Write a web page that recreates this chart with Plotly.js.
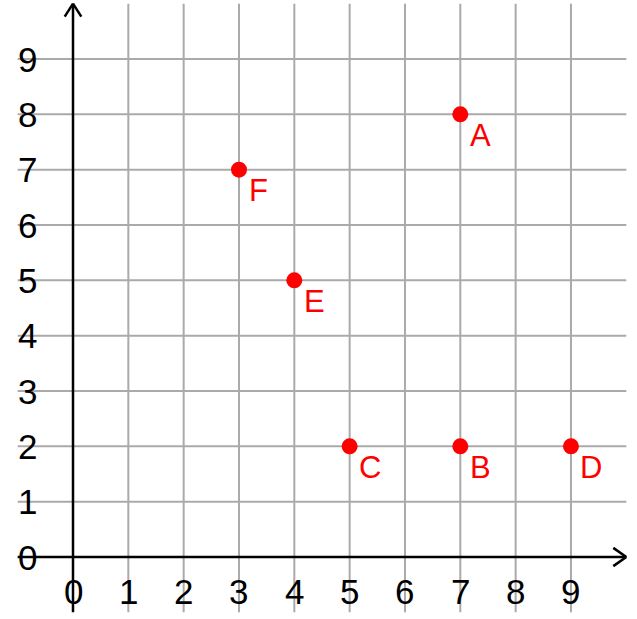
<!DOCTYPE html>
<html>
<head>
<meta charset="utf-8">
<script src="https://cdn.plot.ly/plotly-3.0.1.min.js"></script>
<style>
  html, body { margin: 0; padding: 0; background: #fff; }
  #plot { width: 637px; height: 619px; }
</style>
</head>
<body>
<div id="plot"></div>
<script>
// points
const point_names = ['A', 'B', 'C', 'D', 'E', 'F'];
const point_x = [7, 7, 5, 9, 4, 3];
const point_y = [8, 2, 2, 2, 5, 7];

// ticks
const x_ticks = [0, 1, 2, 3, 4, 5, 6, 7, 8, 9];
const y_ticks = [0, 1, 2, 3, 4, 5, 6, 7, 8, 9];
const grid_min = -1;
const grid_max = 10;

const font_family = 'Arial, "Liberation Sans", sans-serif';

const seg = (x0, y0, x1, y1, color, width) => ({
  type: 'line', xref: 'x', yref: 'y',
  x0, y0, x1, y1,
  line: {color, width},
  layer: 'below',
});

let shapes = [];
// grid
for (const t of x_ticks.slice(1)) shapes.push(seg(t, grid_min, t, grid_max, '#aaaaaa', 2));
for (const t of y_ticks.slice(1)) shapes.push(seg(grid_min, t, grid_max, t, '#aaaaaa', 2));
// axes with open arrow heads
shapes.push(seg(grid_min, 0, grid_max, 0, '#000', 2.5));
shapes.push(seg(0, grid_min, 0, grid_max, '#000', 2.5));
shapes.push(seg(grid_max - 0.235, 0.165, grid_max, 0, '#000', 2.5));
shapes.push(seg(grid_max - 0.235, -0.165, grid_max, 0, '#000', 2.5));
shapes.push(seg(-0.15, grid_max - 0.235, 0, grid_max, '#000', 2.5));
shapes.push(seg(0.15, grid_max - 0.235, 0, grid_max, '#000', 2.5));

let annotations = [];
for (const t of x_ticks) {
  annotations.push({
    x: t, y: -0.63, xref: 'x', yref: 'y', text: String(t), showarrow: false,
    xanchor: 'center', yanchor: 'middle',
    font: {family: font_family, size: 35, color: '#000'},
  });
}
for (const t of y_ticks) {
  annotations.push({
    x: -0.83, y: t, xref: 'x', yref: 'y', text: String(t), showarrow: false,
    xanchor: 'center', yanchor: 'middle',
    font: {family: font_family, size: 35, color: '#000'},
  });
}
point_names.forEach((name, i) => {
  annotations.push({
    x: point_x[i], y: point_y[i], xref: 'x', yref: 'y', text: name, showarrow: false,
    xanchor: 'center', yanchor: 'middle', xshift: 20, yshift: -21,
    font: {family: font_family, size: 31, color: '#ff0000'},
  });
});

const points = {
  x: point_x,
  y: point_y,
  mode: 'markers',
  type: 'scatter',
  marker: {color: '#ff0000', size: 16},
  hoverinfo: 'skip',
};

const unit = 55.33;
const layout = {
  width: 637,
  height: 619,
  margin: {l: 0, r: 0, t: 0, b: 0},
  paper_bgcolor: '#fff',
  plot_bgcolor: '#fff',
  showlegend: false,
  xaxis: {visible: false, range: [-73 / unit, (637 - 73) / unit], fixedrange: true},
  yaxis: {visible: false, range: [-(619 - 557) / unit, 557 / unit], fixedrange: true},
  shapes,
  annotations,
};

Plotly.newPlot('plot', [points], layout, {staticPlot: true});
</script>
</body>
</html>
